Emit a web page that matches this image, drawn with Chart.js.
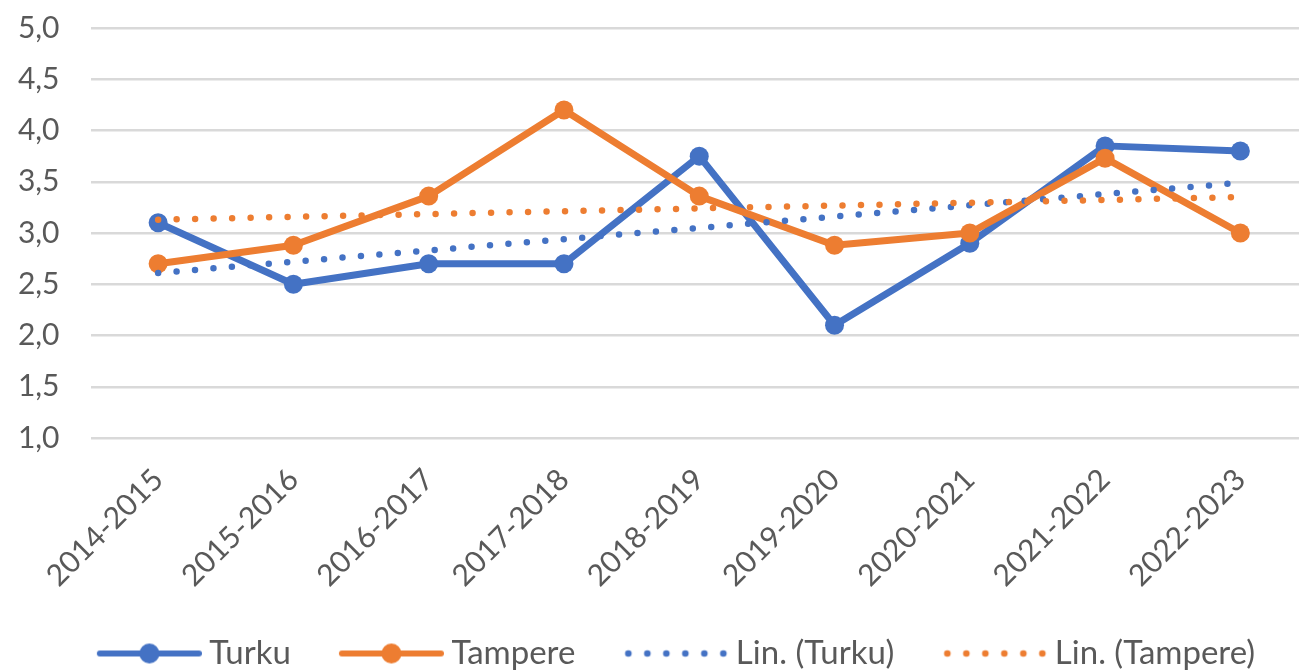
<!DOCTYPE html>
<html lang="fi">
<head>
<meta charset="UTF-8">
<title>Turku ja Tampere</title>
<script src="https://cdn.jsdelivr.net/npm/chart.js"></script>
<style>
    html, body {
        margin: 0;
        padding: 0;
        background: #fff;
        overflow: hidden;
    }

    /* the plot runs a few pixels past the right edge, as in the picture */
    .frame {
        position: relative;
        width: 1299px;
        height: 671px;
        overflow: hidden;
    }

    .frame canvas {
        position: absolute;
        left: 0;
        top: 0;
    }
</style>
</head>
<body>
<div class="frame"><canvas id="chart" width="1308" height="680"></canvas></div>
<script>
    // values
    const seasons = ['2014-2015', '2015-2016', '2016-2017', '2017-2018', '2018-2019',
        '2019-2020', '2020-2021', '2021-2022', '2022-2023'];
    const turku = [3.1, 2.5, 2.7, 2.7, 3.75, 2.1, 2.9, 3.85, 3.8];
    const tampere = [2.7, 2.88, 3.36, 4.2, 3.36, 2.88, 3.0, 3.73, 3.0];
    // trend lines: only the two ends are read, the line joins them
    const turkuTrend = [2.61, null, null, null, null, null, null, null, 3.49];
    const tampereTrend = [3.13, null, null, null, null, null, null, null, 3.35];
    const yTickLabels = ['1,0', '1,5', '2,0', '2,5', '3,0', '3,5', '4,0', '4,5', '5,0'];

    const BLUE = '#4472C4';
    const ORANGE = '#ED7D31';
    const TEXT = '#595959';
    const FONT = 'Lato, "Liberation Sans", sans-serif';

    // legend marker: 105px symbol sitting in the right part of a 152px canvas,
    // so that chart.js centres it with the right gap before the text
    function legendSymbol(color, dotted) {
        const c = document.createElement('canvas');
        c.width = 152;
        c.height = 24;
        const g = c.getContext('2d');
        const x0 = 47;
        g.fillStyle = color;
        g.strokeStyle = color;
        if (dotted) {
            for (let i = 0; i < 6; i++) {
                g.beginPath();
                g.arc(x0 + 5 + i * 19, 12, 3.3, 0, Math.PI * 2);
                g.fill();
            }
        } else {
            g.lineWidth = 6;
            g.lineCap = 'round';
            g.beginPath();
            g.moveTo(x0 + 3, 12);
            g.lineTo(x0 + 102, 12);
            g.stroke();
            g.beginPath();
            g.arc(x0 + 52.5, 12, 10, 0, Math.PI * 2);
            g.fill();
        }
        return c;
    }

    const symbols = [
        legendSymbol(BLUE, false),
        legendSymbol(ORANGE, false),
        legendSymbol(BLUE, true),
        legendSymbol(ORANGE, true)
    ];

    function seriesLine(label, data, color, order) {
        return {
            label: label,
            data: data,
            borderColor: color,
            backgroundColor: color,
            borderWidth: 7,
            borderJoinStyle: 'round',
            pointRadius: 9.5,
            pointBorderWidth: 0,
            pointBackgroundColor: color,
            tension: 0,
            order: order
        };
    }

    function trendLine(label, data, color, order) {
        return {
            label: label,
            data: data,
            borderColor: color,
            borderWidth: 6.5,
            borderDash: [0, 18.5],
            borderCapStyle: 'round',
            pointRadius: 0,
            spanGaps: true,
            order: order
        };
    }

    // nudge the legend row sideways to where it sits in the picture
    const legendShift = {
        id: 'legendShift',
        afterLayout(chart) {
            chart.legend.left += 3;
            chart.legend.right += 3;
        }
    };

    const ctx = document.getElementById('chart').getContext('2d');
    new Chart(ctx, {
        type: 'line',
        data: {
            labels: seasons,
            datasets: [
                seriesLine('Turku', turku, BLUE, 4),
                seriesLine('Tampere', tampere, ORANGE, 3),
                trendLine('Lin. (Turku)', turkuTrend, BLUE, 2),
                trendLine('Lin. (Tampere)', tampereTrend, ORANGE, 1)
            ]
        },
        plugins: [legendShift],
        options: {
            responsive: false,
            animation: false,
            devicePixelRatio: 1,
            layout: {
                autoPadding: false,
                padding: { top: 28, right: 0, bottom: 0, left: 0 }
            },
            plugins: {
                tooltip: { enabled: false },
                legend: {
                    position: 'bottom',
                    labels: {
                        usePointStyle: true,
                        pointStyleWidth: 134,
                        padding: 10,
                        color: TEXT,
                        font: { family: FONT, size: 33 },
                        generateLabels: chart => chart.data.datasets.map((ds, i) => ({
                            text: ds.label,
                            pointStyle: symbols[i],
                            fillStyle: ds.borderColor,
                            strokeStyle: ds.borderColor,
                            lineWidth: 0,
                            fontColor: TEXT,
                            hidden: false,
                            datasetIndex: i
                        }))
                    }
                }
            },
            scales: {
                x: {
                    offset: true,
                    grid: { display: false },
                    border: { display: false },
                    ticks: {
                        color: TEXT,
                        font: { family: FONT, size: 30 },
                        minRotation: 45,
                        maxRotation: 45,
                        padding: 16
                    },
                    afterFit: s => {
                        s.height = 189;
                        s.paddingRight = 0;
                    }
                },
                y: {
                    min: 1,
                    max: 5,
                    border: { display: false },
                    grid: {
                        color: '#D9D9D9',
                        lineWidth: 2.5,
                        drawTicks: true,
                        tickLength: 31,
                        tickColor: 'rgba(0,0,0,0)'
                    },
                    ticks: {
                        stepSize: 0.5,
                        padding: 0,
                        color: TEXT,
                        font: { family: FONT, size: 30 },
                        callback: v => yTickLabels[Math.round((v - 1) / 0.5)]
                    },
                    afterFit: s => { s.width = 90.5; }
                }
            }
        }
    });
</script>
</body>
</html>
